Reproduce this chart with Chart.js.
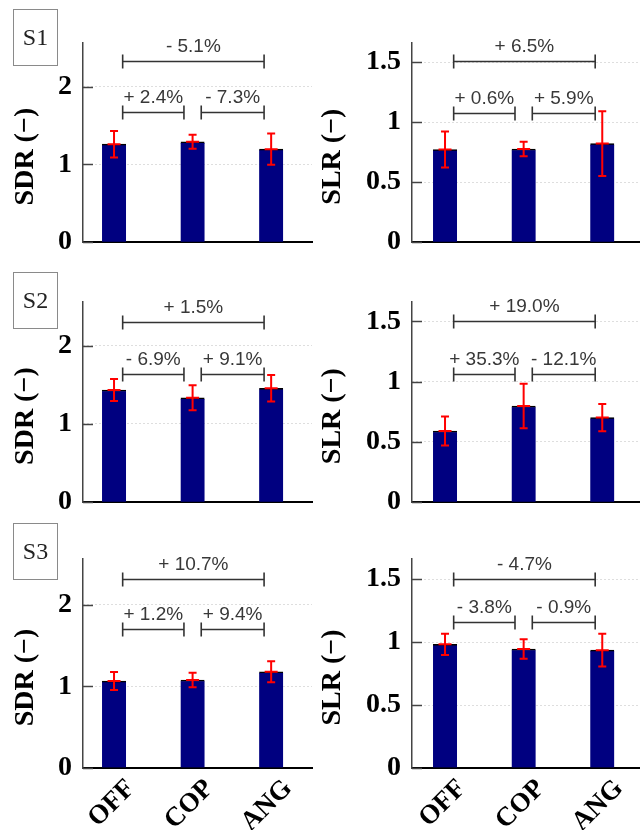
<!DOCTYPE html>
<html>
<head>
<meta charset="utf-8">
<script src="https://cdn.jsdelivr.net/npm/chart.js@4.4.1/dist/chart.umd.min.js"></script>
<style>
  body { margin: 0; background: #fff; }
  #wrap { position: relative; width: 640px; height: 830px; overflow: hidden; }
  canvas { position: absolute; }
  .tag {
    position: absolute; left: 13px; width: 45px; height: 57px;
    box-sizing: border-box; border: 1px solid #8a8a8a;
    font: 24px "Liberation Serif", "Times New Roman", serif; color: #222;
    display: flex; align-items: center; justify-content: center;
  }
</style>
</head>
<body>
<div id="wrap"></div>
<script>
const categories = ['OFF', 'COP', 'ANG'];
const scenarios = ['S1', 'S2', 'S3'];

// SDR (left column), one row per scenario
const sdrMeans  = [[1.26, 1.29, 1.196], [1.435, 1.336, 1.457], [1.065, 1.078, 1.179]];
const sdrErrors = [[0.17, 0.09, 0.20], [0.14, 0.16, 0.17], [0.11, 0.09, 0.13]];
const sdrChanges = [['+ 2.4%', '- 7.3%', '- 5.1%'], ['- 6.9%', '+ 9.1%', '+ 1.5%'], ['+ 1.2%', '+ 9.4%', '+ 10.7%']];
const sdrTicks = [0, 1, 2];

// SLR (right column)
const slrMeans  = [[0.772, 0.777, 0.822], [0.59, 0.798, 0.702], [0.982, 0.945, 0.936]];
const slrErrors = [[0.15, 0.06, 0.27], [0.12, 0.185, 0.113], [0.085, 0.077, 0.13]];
const slrChanges = [['+ 0.6%', '+ 5.9%', '+ 6.5%'], ['+ 35.3%', '- 12.1%', '+ 19.0%'], ['- 3.8%', '- 0.9%', '- 4.7%']];
const slrTicks = [0, 0.5, 1, 1.5];

// layout only
const rows = [
  { top: 0,   height: 270, plotTop: 43, plotBottom: 254, tagTop: 9 },
  { top: 270, height: 260, plotTop: 32, plotBottom: 241, tagTop: 272 },
  { top: 530, height: 300, plotTop: 29, plotBottom: 238, tagTop: 523 }
];
const cols = [
  { left: 0,   axisX: 83, padRight: 8, xMin: -0.395, xMax: 2.52, yMax: 2.56, titleX: 26, title: 'SDR (\u2212)',
    means: sdrMeans, errors: sdrErrors, changes: sdrChanges, ticks: sdrTicks,
    levels: [[2.33, 1.67], [2.31, 1.64], [2.31, 1.70]] },
  { left: 320, axisX: 92, padRight: 0, xMin: -0.42, xMax: 2.48, yMax: 1.66, titleX: 13, title: 'SLR (\u2212)',
    means: slrMeans, errors: slrErrors, changes: slrChanges, ticks: slrTicks,
    levels: [[1.51, 1.074], [1.50, 1.064], [1.50, 1.16]] }
];

const serif = '"Liberation Serif", "Times New Roman", serif';
const sans = '"Liberation Sans", Arial, sans-serif';

const decor = {
  id: 'decor',
  afterDraw(chart, args, opts) {
    const ctx = chart.ctx;
    const area = chart.chartArea;
    const xs = chart.scales.x, ys = chart.scales.y;
    ctx.save();

    // small inward ticks on the y axis
    ctx.strokeStyle = '#444';
    ctx.lineWidth = 1.5;
    opts.ticks.forEach(v => {
      const y = Math.round(ys.getPixelForValue(v)) + 0.5;
      ctx.beginPath();
      ctx.moveTo(area.left, y);
      ctx.lineTo(area.left + 10, y);
      ctx.stroke();
    });

    // error bars
    ctx.strokeStyle = '#ff0000';
    ctx.lineWidth = 2;
    chart.getDatasetMeta(0).data.forEach((bar, i) => {
      const x = bar.x;
      const m = opts.means[i], e = opts.errors[i];
      const yt = ys.getPixelForValue(m + e);
      const yb = ys.getPixelForValue(m - e);
      const ym = ys.getPixelForValue(m);
      ctx.beginPath();
      ctx.moveTo(x, yt); ctx.lineTo(x, yb);
      ctx.moveTo(x - 4, yt); ctx.lineTo(x + 4, yt);
      ctx.moveTo(x - 4, yb); ctx.lineTo(x + 4, yb);
      ctx.moveTo(x - 6.5, ym); ctx.lineTo(x + 6.5, ym);
      ctx.stroke();
    });

    // comparison brackets
    const spans = [[0.11, 0.89, opts.levels[1]], [1.11, 1.91, opts.levels[1]], [0.11, 1.91, opts.levels[0]]];
    ctx.strokeStyle = '#333';
    ctx.fillStyle = '#383838';
    ctx.lineWidth = 1.6;
    ctx.font = '19px ' + sans;
    ctx.textAlign = 'center';
    ctx.textBaseline = 'middle';
    spans.forEach(([a, b, lvl], k) => {
      const x1 = xs.getPixelForValue(a), x2 = xs.getPixelForValue(b);
      const y = Math.round(ys.getPixelForValue(lvl)) + 0.5;
      ctx.beginPath();
      ctx.moveTo(x1, y); ctx.lineTo(x2, y);
      ctx.moveTo(x1, y - 7); ctx.lineTo(x1, y + 7);
      ctx.moveTo(x2, y - 7); ctx.lineTo(x2, y + 7);
      ctx.stroke();
      ctx.fillText(opts.changes[k], (x1 + x2) / 2, y - 15);
    });

    // y axis title
    ctx.fillStyle = '#000';
    ctx.font = 'bold 28px ' + serif;
    ctx.translate(opts.titleX, (area.top + area.bottom) / 2 + 14);
    ctx.rotate(-Math.PI / 2);
    ctx.fillText(opts.title, 0, 0);
    ctx.restore();
  }
};

const wrap = document.getElementById('wrap');

rows.forEach((row, r) => {
  const tag = document.createElement('div');
  tag.className = 'tag';
  tag.style.top = row.tagTop + 'px';
  tag.textContent = scenarios[r];

  cols.forEach((col, c) => {
    const canvas = document.createElement('canvas');
    canvas.width = 320;
    canvas.height = row.height;
    canvas.style.left = col.left + 'px';
    canvas.style.top = row.top + 'px';
    wrap.appendChild(canvas);

    const isBottom = r === rows.length - 1;
    new Chart(canvas, {
      type: 'bar',
      data: {
        datasets: [{
          data: col.means[r].map((v, i) => ({ x: i, y: v })),
          backgroundColor: '#000080',
          borderColor: '#000',
          borderWidth: { top: 1.5, left: 0, right: 0, bottom: 0 },
          borderSkipped: false,
          barThickness: 24
        }]
      },
      options: {
        responsive: false,
        animation: false,
        layout: { padding: { top: row.plotTop, right: col.padRight, left: 0, bottom: 0 } },
        plugins: {
          legend: { display: false },
          tooltip: { enabled: false },
          decor: {
            means: col.means[r], errors: col.errors[r], changes: col.changes[r],
            levels: col.levels[r], ticks: col.ticks, title: col.title, titleX: col.titleX
          }
        },
        scales: {
          x: {
            type: 'linear',
            offset: false,
            min: col.xMin,
            max: col.xMax,
            afterBuildTicks: s => { s.ticks = categories.map((_, i) => ({ value: i })); },
            afterFit: s => { s.height = row.height - row.plotBottom; },
            grid: { display: false, drawTicks: false, offset: false },
            border: { color: '#000', width: 2 },
            ticks: {
              display: isBottom,
              callback: v => categories[v],
              minRotation: 45,
              maxRotation: 45,
              labelOffset: 17,
              padding: 5,
              color: '#000',
              font: { family: serif, size: 27, weight: 'bold' }
            }
          },
          y: {
            min: 0,
            max: col.yMax,
            afterBuildTicks: s => { s.ticks = col.ticks.map(v => ({ value: v })); },
            afterFit: s => { s.width = col.axisX; },
            grid: {
              drawTicks: false,
              lineWidth: 1,
              color: ctx => (ctx.tick && ctx.tick.value === 0) ? 'rgba(0,0,0,0)' : '#bdbdbd'
            },
            border: { color: '#444', width: 1.5, dash: [1, 3] },
            ticks: {
              padding: 11,
              color: '#000',
              callback: v => String(v),
              font: { family: serif, size: 28, weight: 'bold' }
            }
          }
        }
      },
      plugins: [decor]
    });
  });

  wrap.appendChild(tag);
});
</script>
</body>
</html>
